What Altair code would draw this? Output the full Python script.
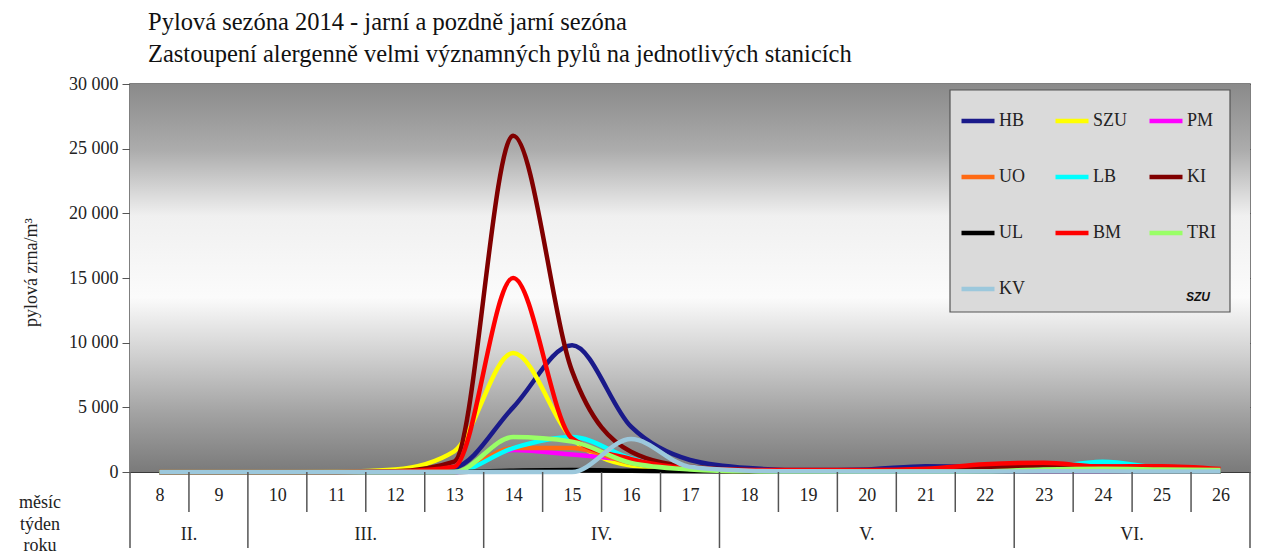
import altair as alt
import pandas as pd

weeks = list(range(8, 27))
stations = ["HB", "SZU", "PM", "UO", "LB", "KI", "UL", "BM", "TRI", "KV"]
colors = ["#1a1a8a", "#ffff00", "#ff00ff", "#ff6a13", "#00ffff",
          "#800000", "#000000", "#ff0000", "#99ff66", "#9cc8dc"]
widths = [4.5, 4.5, 3.5, 3.5, 3.5, 5, 3, 3, 3, 2.2]

HB = [0, 0, 0, 0, 50, 350, 5000, 9800, 3500, 930, 300, 150, 200, 450, 400, 300, 250, 200, 100]
SZU = [0, 0, 0, 30, 200, 1600, 9200, 2600, 500, 200, 100, 50, 50, 50, 50, 100, 100, 50, 50]
PM = [0, 0, 0, 0, 0, 0, 1700, 1350, 900, 300, 100, 50, 50, 50, 50, 50, 50, 100, 200]
UO = [0, 0, 0, 0, 0, 0, 1850, 1850, 700, 200, 50, 30, 30, 30, 50, 150, 100, 50, 30]
LB = [0, 0, 0, 0, 0, 0, 1850, 2700, 1050, 250, 100, 50, 50, 50, 50, 300, 800, 300, 100]
KI = [0, 0, 0, 0, 50, 800, 26000, 7800, 1570, 400, 150, 100, 100, 200, 300, 500, 400, 300, 150]
UL = [0, 0, 0, 0, 0, 0, 100, 150, 100, 50, 30, 30, 30, 30, 30, 50, 50, 30, 30]
BM = [0, 0, 0, 0, 30, 400, 15000, 2600, 1000, 300, 150, 150, 150, 250, 600, 720, 420, 450, 230]
TRI = [0, 0, 0, 0, 0, 0, 2700, 2350, 700, 200, 50, 30, 30, 30, 50, 200, 250, 200, 150]
KV = [0, 0, 0, 0, 0, 0, 0, 0, 2550, 400, 100, 50, 30, 30, 30, 50, 50, 30, 30]

series = {"HB": HB, "SZU": SZU, "PM": PM, "UO": UO, "LB": LB, "KI": KI,
          "UL": UL, "BM": BM, "TRI": TRI, "KV": KV}

months = ["II.", "III.", "IV.", "V.", "VI."]
month_weeks = [[8, 9], [10, 11, 12, 13], [14, 15, 16, 17], [18, 19, 20, 21, 22], [23, 24, 25, 26]]
yticks = [0, 5000, 10000, 15000, 20000, 25000, 30000]

title_lines = ["Pylová sezóna 2014 - jarní a pozdně jarní sezóna",
               "Zastoupení alergenně velmi významných pylů na jednotlivých stanicích"]
row_labels = "měsíc\ntýden\nroku"

FONT = "Liberation Serif"
W, H = 1120, 388

rows = []
for s in stations:
    for w, v in zip(weeks, series[s]):
        rows.append({"station": s, "week": w, "value": v})
df = pd.DataFrame(rows)

month_rows = []
bounds = set()
for m, ws in zip(months, month_weeks):
    month_rows.append({"month": m, "pos": sum(ws) / len(ws)})
    bounds.add(min(ws) - 0.5)
    bounds.add(max(ws) + 0.5)
month_df = pd.DataFrame(month_rows)
month_bounds = pd.DataFrame({"b": sorted(bounds)})
week_bounds = pd.DataFrame({"b": [w + 0.5 for w in weeks[:-1] if (w + 0.5) not in bounds]})

xscale = alt.Scale(domain=[weeks[0] - 0.5, weeks[-1] + 0.5], nice=False, zero=False)
yscale = alt.Scale(domain=[0, 30000], nice=False)

bg = alt.Chart(alt.Data(values=[{}])).mark_rect(
    color=alt.Gradient(
        gradient="linear",
        stops=[
            alt.GradientStop(offset=0.0, color="#8a8a8a"),
            alt.GradientStop(offset=0.17, color="#acacac"),
            alt.GradientStop(offset=0.34, color="#f0f0f0"),
            alt.GradientStop(offset=0.55, color="#fbfbfb"),
            alt.GradientStop(offset=0.70, color="#d0d0d0"),
            alt.GradientStop(offset=0.85, color="#a2a2a2"),
            alt.GradientStop(offset=1.0, color="#7a7a7a"),
        ],
        x1=0, x2=0, y1=0, y2=1,
    )
).encode(x=alt.value(0), x2=alt.value(W), y=alt.value(0), y2=alt.value(H))

legend_box = alt.Chart(alt.Data(values=[{}])).mark_rect(
    fill="#dadada", stroke="#555555", strokeWidth=1.2
).encode(x=alt.value(820), x2=alt.value(1100), y=alt.value(6), y2=alt.value(228))

lines = alt.Chart(df).mark_line(interpolate="monotone").encode(
    x=alt.X("week:Q", scale=xscale,
            axis=alt.Axis(values=weeks, format="d", ticks=False, grid=False, domain=False,
                          labelFont=FONT, labelFontSize=18, labelColor="#222",
                          labelPadding=14, title=None, labelFlush=False)),
    y=alt.Y("value:Q", scale=yscale,
            axis=alt.Axis(values=yticks, grid=True, gridColor="#3a3a3a", gridWidth=1.2,
                          tickColor="#555", tickSize=8, domain=False,
                          labelFont=FONT, labelFontSize=18, labelColor="#222", labelPadding=4,
                          labelExpr="replace(format(datum.value, ','), ',', ' ')",
                          title="pylová zrna/m³", titleFont=FONT, titleFontSize=18,
                          titleFontWeight="normal", titleColor="#222",
                          titleX=-99, titleY=H / 2 - 6, titleAngle=270,
                          titleAlign="center", titleBaseline="middle")),
    color=alt.Color("station:N", sort=stations,
                    scale=alt.Scale(domain=stations, range=colors),
                    legend=alt.Legend(orient="none", legendX=817, legendY=6, columns=3,
                                      direction="horizontal",
                                      title=None, symbolType="stroke", symbolSize=1089,
                                      symbolStrokeWidth=4, labelFont=FONT, labelFontSize=18,
                                      labelColor="#222", labelOffset=2, padding=12,
                                      rowPadding=28, columnPadding=12, gridAlign="all")),
    strokeWidth=alt.StrokeWidth("station:N", sort=stations,
                                scale=alt.Scale(domain=stations, range=widths), legend=None),
)

week_sep = alt.Chart(week_bounds).mark_rule(color="#555", strokeWidth=1.5).encode(
    x=alt.X("b:Q", scale=xscale), y=alt.value(H), y2=alt.value(H + 40))
month_sep = alt.Chart(month_bounds).mark_rule(color="#555", strokeWidth=1.5).encode(
    x=alt.X("b:Q", scale=xscale), y=alt.value(H), y2=alt.value(H + 76))
month_txt = alt.Chart(month_df).mark_text(font=FONT, fontSize=18, color="#222", baseline="alphabetic").encode(
    x=alt.X("pos:Q", scale=xscale), y=alt.value(H + 68), text="month:N")
row_txt = alt.Chart(alt.Data(values=[{"t": row_labels}])).mark_text(
    font=FONT, fontSize=18, color="#222", lineBreak="\n", lineHeight=21.5,
    baseline="alphabetic", align="center").encode(
    x=alt.value(-90), y=alt.value(H + 36), text="t:N")
logo = alt.Chart(alt.Data(values=[{"t": "SZU"}])).mark_text(
    font="Liberation Sans", fontSize=12, fontWeight="bold", fontStyle="italic", color="#111").encode(
    x=alt.value(1068), y=alt.value(213), text="t:N")

chart = alt.layer(bg, legend_box, lines, week_sep, month_sep, month_txt, row_txt, logo).properties(
    width=W, height=H,
    title=alt.TitleParams(text=title_lines, anchor="start", frame="group", dx=18, offset=8,
                          font=FONT, fontSize=24.5, fontWeight="normal", color="#111", lineHeight=32),
    autosize=alt.AutoSizeParams(type="none"),
    padding={"left": 122, "top": 76, "right": 20, "bottom": 82},
).configure_view(stroke="#555555", strokeWidth=1.5)

chart.save("out.html", embed_options={"renderer": "svg", "actions": False})
